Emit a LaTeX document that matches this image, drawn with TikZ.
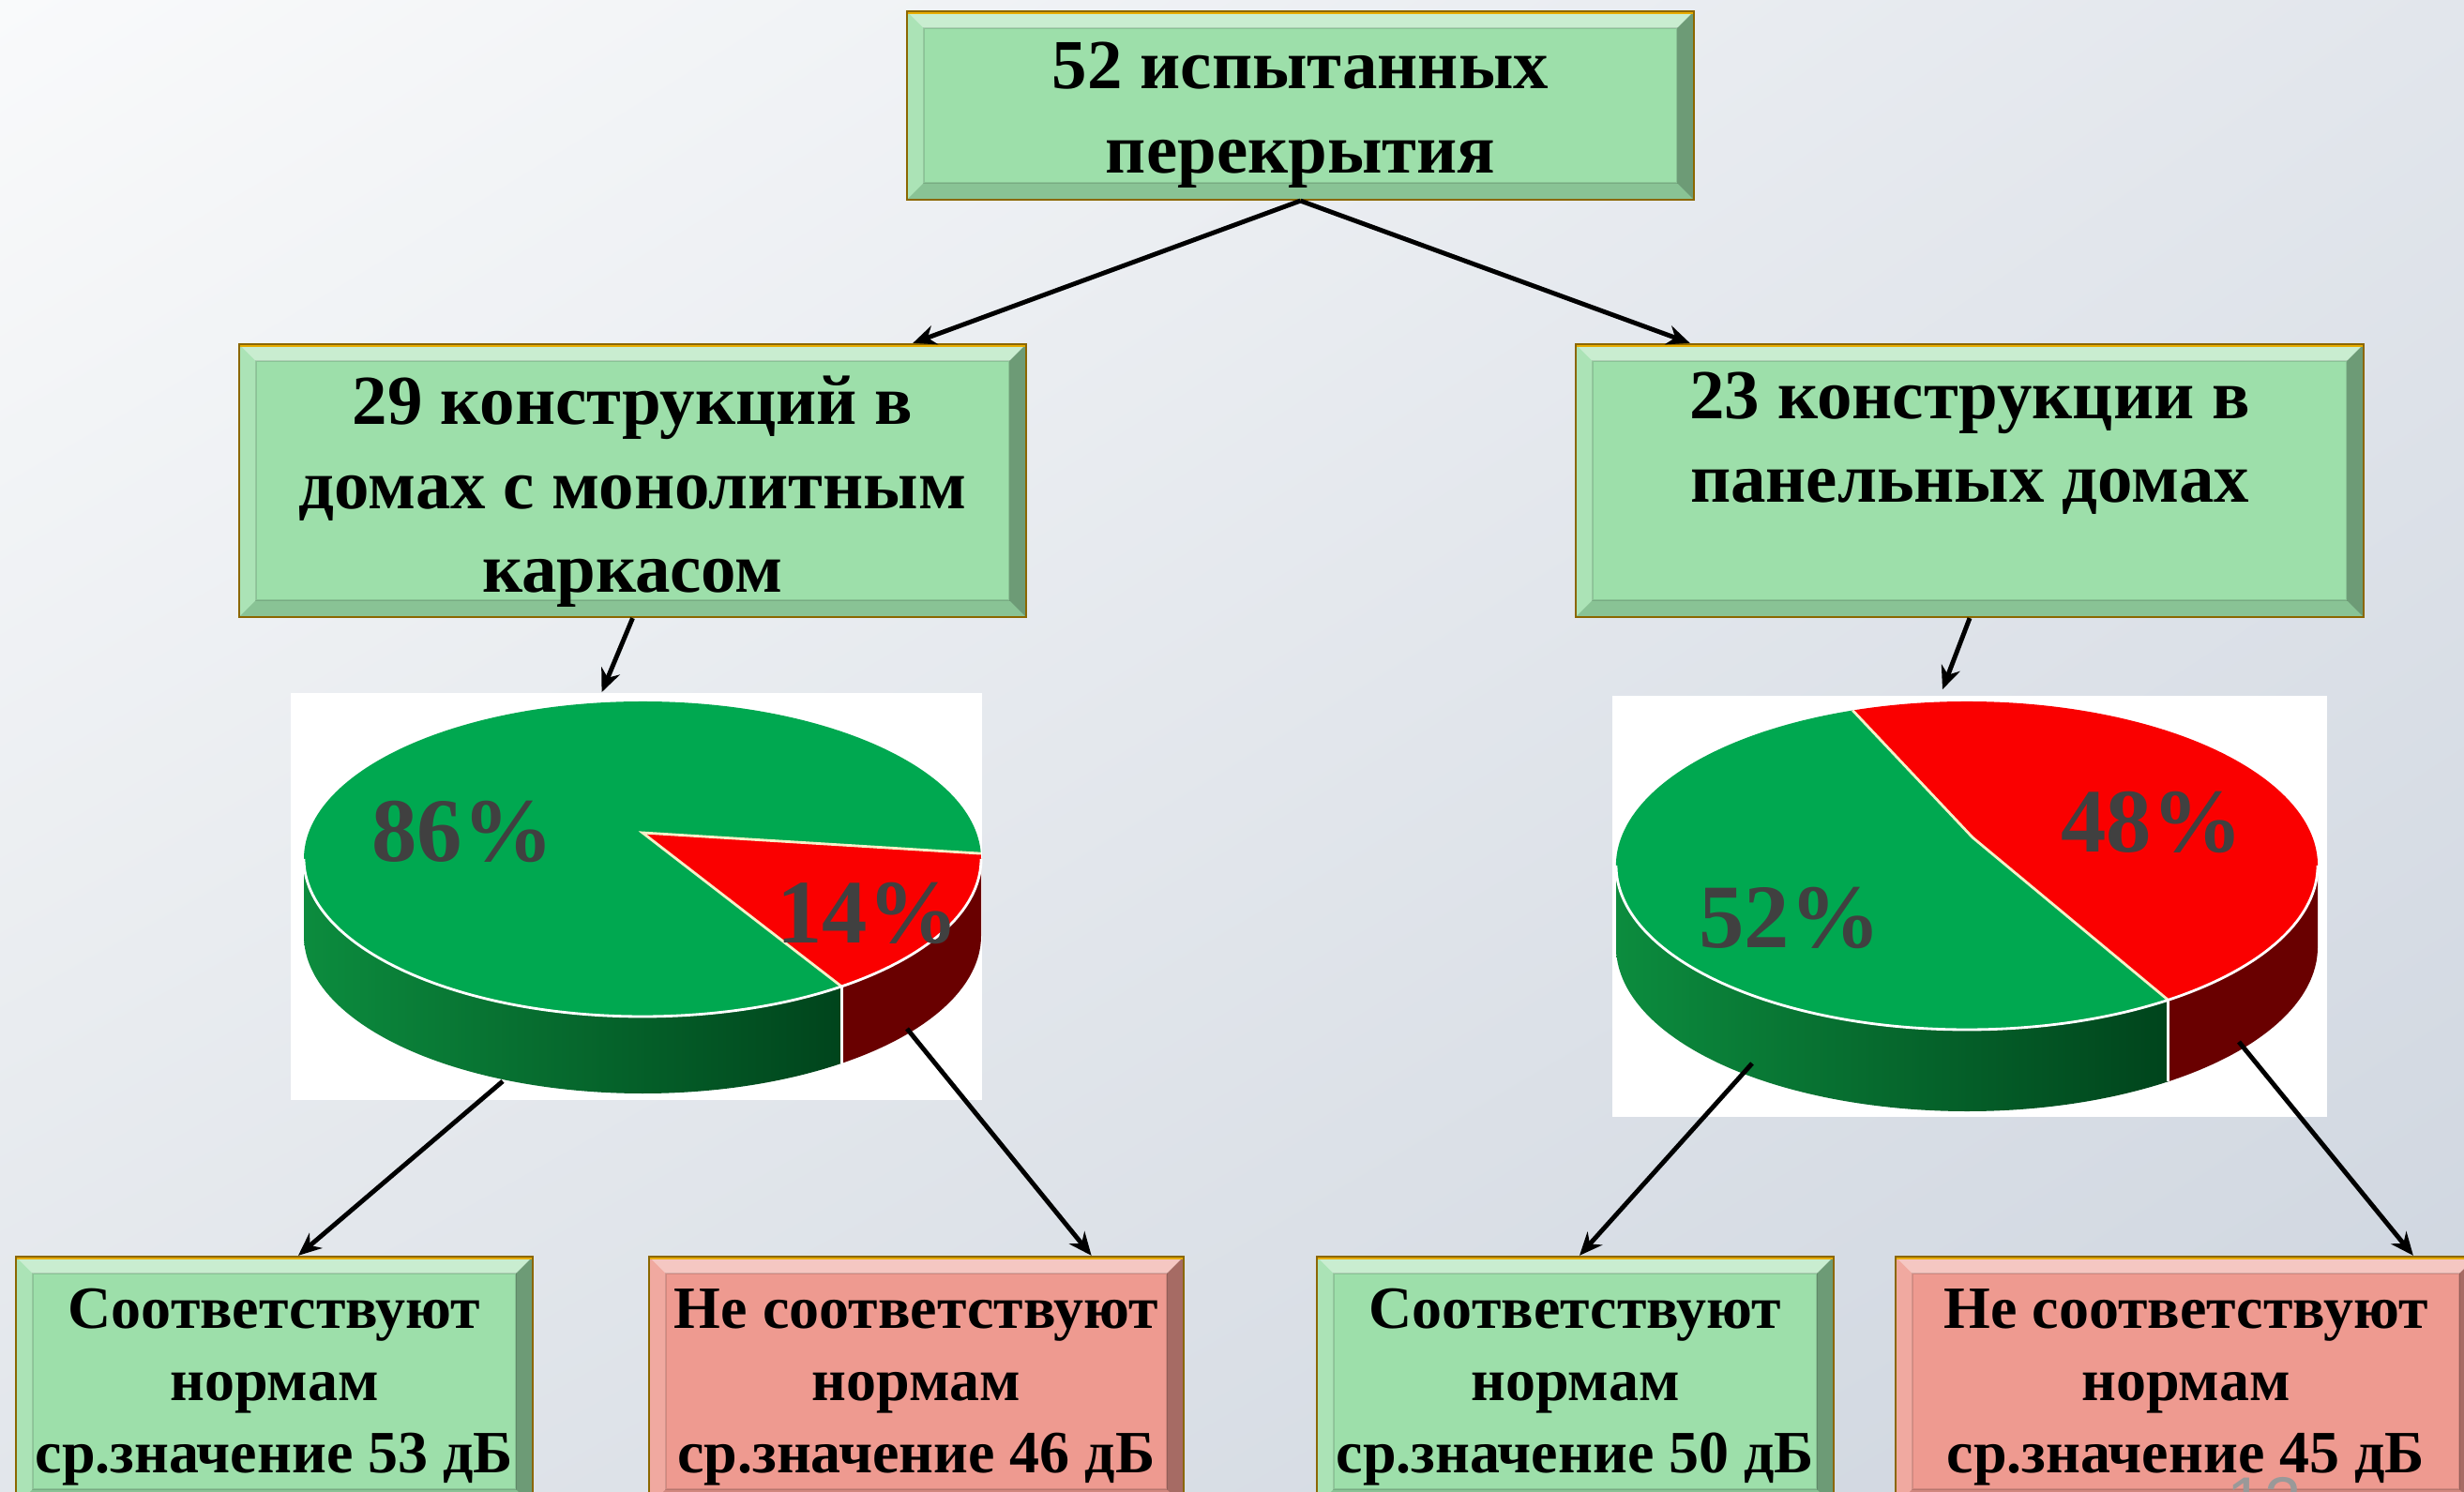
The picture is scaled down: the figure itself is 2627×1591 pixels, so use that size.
\documentclass[tikz,border=0pt]{standalone}
\usepackage{fontspec}
\setmainfont{Liberation Serif}
\setsansfont{Liberation Sans}
\usetikzlibrary{calc,arrows.meta,shadings}
\definecolor{boxgreen}{RGB}{157,223,170}
\definecolor{boxpink}{RGB}{238,154,144}
\definecolor{piegreen}{RGB}{0,168,80}
\definecolor{piered}{RGB}{250,0,0}
\definecolor{sidegreenL}{RGB}{12,140,62}
\definecolor{sidegreenR}{RGB}{0,68,28}
\definecolor{sidered}{RGB}{105,0,0}
\definecolor{labelgray}{RGB}{64,64,64}
\definecolor{goldedge}{RGB}{232,172,0}
\definecolor{bgTL}{RGB}{249,250,251}
\definecolor{bgTR}{RGB}{226,230,236}
\definecolor{bgBL}{RGB}{226,230,235}
\definecolor{bgBR}{RGB}{206,213,223}
\definecolor{rimline}{RGB}{245,240,200}
\newcommand{\bigboxfont}{\fontsize{21.3pt}{25.5pt}\selectfont\bfseries}
\newcommand{\smallboxfont}{\fontsize{18.2pt}{21.9pt}\selectfont\bfseries}
\newcommand{\pctfont}{\fontsize{27.5pt}{30pt}\selectfont\bfseries}
\tikzset{
  bevel/.style={path picture={
    \path (path picture bounding box.north west) coordinate (pnw)
          (path picture bounding box.north east) coordinate (pne)
          (path picture bounding box.south west) coordinate (psw)
          (path picture bounding box.south east) coordinate (pse);
    \fill[white,opacity=.45] (pnw) -- (pne) -- ($(pne)+(-18,-18)$) -- ($(pnw)+(18,-18)$) -- cycle;
    \fill[white,opacity=.15] (pnw) -- ($(pnw)+(18,-18)$) -- ($(psw)+(18,18)$) -- (psw) -- cycle;
    \fill[black,opacity=.12] (psw) -- ($(psw)+(18,18)$) -- ($(pse)+(-18,18)$) -- (pse) -- cycle;
    \fill[black,opacity=.30] (pne) -- (pse) -- ($(pse)+(-18,18)$) -- ($(pne)+(-18,-18)$) -- cycle;
    \draw[black,opacity=.12,line width=.5pt] ($(pnw)+(18,-18)$) rectangle ($(pse)+(-18,18)$);
    \draw[goldedge,line width=2pt] (pnw) -- (pne);
  }},
  greenbox/.style={fill=boxgreen, draw=goldedge!60!black, line width=.6pt, bevel, inner sep=0pt},
  pinkbox/.style={fill=boxpink, draw=goldedge!60!black, line width=.6pt, bevel, inner sep=0pt},
  bigtext/.style={align=center, inner sep=0pt, font=\bigboxfont},
  smalltext/.style={align=center, inner sep=0pt, font=\smallboxfont},
  piebg/.style={fill=white, draw=none, inner sep=0pt},
  conn/.style={line width=1.4pt, -{Stealth[length=7pt,width=6pt]}},
  pct/.style={font=\pctfont, text=labelgray, inner sep=0pt},
}
\begin{document}
\begin{tikzpicture}[x=0.01cm,y=0.01cm]
\useasboundingbox (0,0) rectangle (2627,1591);
\shade[upper left=bgTL, upper right=bgTR, lower left=bgBL, lower right=bgBR] (0,0) rectangle (2627,1591);

% boxes
\node[greenbox, minimum width=8.39cm, minimum height=2.01cm] (top) at (1386.5,1478.5) {};
\node[greenbox, minimum width=8.39cm, minimum height=2.91cm] (lmid) at (674.5,1078.5) {};
\node[greenbox, minimum width=8.40cm, minimum height=2.91cm] (rmid) at (2100,1078.5) {};
\node[greenbox, minimum width=5.51cm, minimum height=2.66cm] (b1) at (292.5,118) {};
\node[pinkbox, minimum width=5.70cm, minimum height=2.66cm] (b2) at (977,118) {};
\node[greenbox, minimum width=5.51cm, minimum height=2.66cm] (b3) at (1679.5,118) {};
\node[pinkbox, minimum width=6.19cm, minimum height=2.66cm] (b4) at (2330.5,118) {};

% box texts
\node[bigtext] (top-t) at ($(top.center)+(0,-10)$) {52 испытанных\\перекрытия};
\node[bigtext] (lmid-t) at ($(lmid.center)+(0,-12)$) {29 конструкций в\\домах с монолитным\\каркасом};
\node[bigtext] (rmid-t) at ($(rmid.center)+(0,-12)$) {23 конструкции в\\панельных домах\\\strut};
\node[smalltext] (b1-t) at ($(b1.center)+(0,-6)$) {Соответствуют\\нормам\\ср.значение 53 дБ};
\node[smalltext] (b2-t) at ($(b2.center)+(0,-6)$) {Не соответствуют\\нормам\\ср.значение 46 дБ};
\node[smalltext] (b3-t) at ($(b3.center)+(0,-6)$) {Соответствуют\\нормам\\ср.значение 50 дБ};
\node[smalltext] (b4-t) at ($(b4.center)+(0,-6)$) {Не соответствуют\\нормам\\ср.значение 45 дБ};

% pie backgrounds
\node[piebg, minimum width=7.37cm, minimum height=4.34cm] (lpie) at (678.5,635) {};
\node[piebg, minimum width=7.62cm, minimum height=4.49cm] (rpie) at (2100,624.5) {};

% left pie
\begin{scope}
\coordinate (C) at (685,675);
\coordinate (V) at (685,703);
\shade[left color=sidegreenL, right color=sidegreenR]
  ($(C)+(180:361 and 168)$) arc[start angle=180, end angle=306, x radius=361, y radius=168]
  -- ++(0,-82) arc[start angle=306, end angle=180, x radius=361, y radius=168] -- cycle;
\fill[sidered]
  ($(C)+(306:361 and 168)$) arc[start angle=306, end angle=360, x radius=361, y radius=168]
  -- ++(0,-82) arc[start angle=360, end angle=306, x radius=361, y radius=168] -- cycle;
\draw[white,line width=.8pt] ($(C)+(306:361 and 168)$) -- ++(0,-82);
\fill[piegreen] (V) -- ($(C)+(2:361 and 168)$) arc[start angle=2, end angle=306, x radius=361, y radius=168] -- cycle;
\fill[piered] (V) -- ($(C)+(-54:361 and 168)$) arc[start angle=-54, end angle=2, x radius=361, y radius=168] -- cycle;
\draw[rimline,line width=.8pt] ($(C)+(2:361 and 168)$) -- (V) -- ($(C)+(-54:361 and 168)$);
\draw[white,line width=.8pt] ($(C)+(180:361 and 168)$) arc[start angle=180, end angle=360, x radius=361, y radius=168];
\end{scope}
\node[pct] (l86) at (493,704) {86\%};
\node[pct] (l14) at (925,617) {14\%};

% right pie
\begin{scope}
\coordinate (C2) at (2097,668);
\coordinate (V2) at (2103,698);
\shade[left color=sidegreenL, right color=sidegreenR]
  ($(C2)+(180:374 and 175)$) arc[start angle=180, end angle=305, x radius=374, y radius=175]
  -- ++(0,-87) arc[start angle=305, end angle=180, x radius=374, y radius=175] -- cycle;
\fill[sidered]
  ($(C2)+(305:374 and 175)$) arc[start angle=305, end angle=360, x radius=374, y radius=175]
  -- ++(0,-87) arc[start angle=360, end angle=305, x radius=374, y radius=175] -- cycle;
\draw[white,line width=.8pt] ($(C2)+(305:374 and 175)$) -- ++(0,-87);
\fill[piegreen] (V2) -- ($(C2)+(109:374 and 175)$) arc[start angle=109, end angle=305, x radius=374, y radius=175] -- cycle;
\fill[piered] (V2) -- ($(C2)+(-55:374 and 175)$) arc[start angle=-55, end angle=109, x radius=374, y radius=175] -- cycle;
\draw[rimline,line width=.8pt] ($(C2)+(109:374 and 175)$) -- (V2) -- ($(C2)+(-55:374 and 175)$);
\draw[white,line width=.8pt] ($(C2)+(180:374 and 175)$) arc[start angle=180, end angle=360, x radius=374, y radius=175];
\end{scope}
\node[pct] (r48) at (2294,714) {48\%};
\node[pct] (r52) at (1908,612) {52\%};

% connector start points on the pies
\coordinate (lpG) at (536,438);
\coordinate (lpR) at (967,494);
\coordinate (rpG) at (1868,457);
\coordinate (rpR) at (2387,480);

% connectors
\draw[conn] (top.south) -- ($(lmid.north west)!0.855!(lmid.north east)$);
\draw[conn] (top.south) -- ($(rmid.north west)!0.146!(rmid.north east)$);
\draw[conn] (lmid.south) -- ($(lpie.north west)!0.45!(lpie.north east)$);
\draw[conn] (rmid.south) -- ($(rpie.north west)!0.462!(rpie.north east)+(0,6)$);
\draw[conn] (lpG) -- ($(b1.north west)!0.546!(b1.north east)$);
\draw[conn] (lpR) -- ($(b2.north west)!0.826!(b2.north east)$);
\draw[conn] (rpG) -- ($(b3.north west)!0.508!(b3.north east)$);
\draw[conn] (rpR) -- ($(b4.north west)!0.89!(b4.north east)$);

% partly visible page number
\node[font=\sffamily\fontsize{20pt}{20pt}\selectfont, text=black!40, anchor=base] (pg) at (2414,-34) {12};
\end{tikzpicture}
\end{document}
